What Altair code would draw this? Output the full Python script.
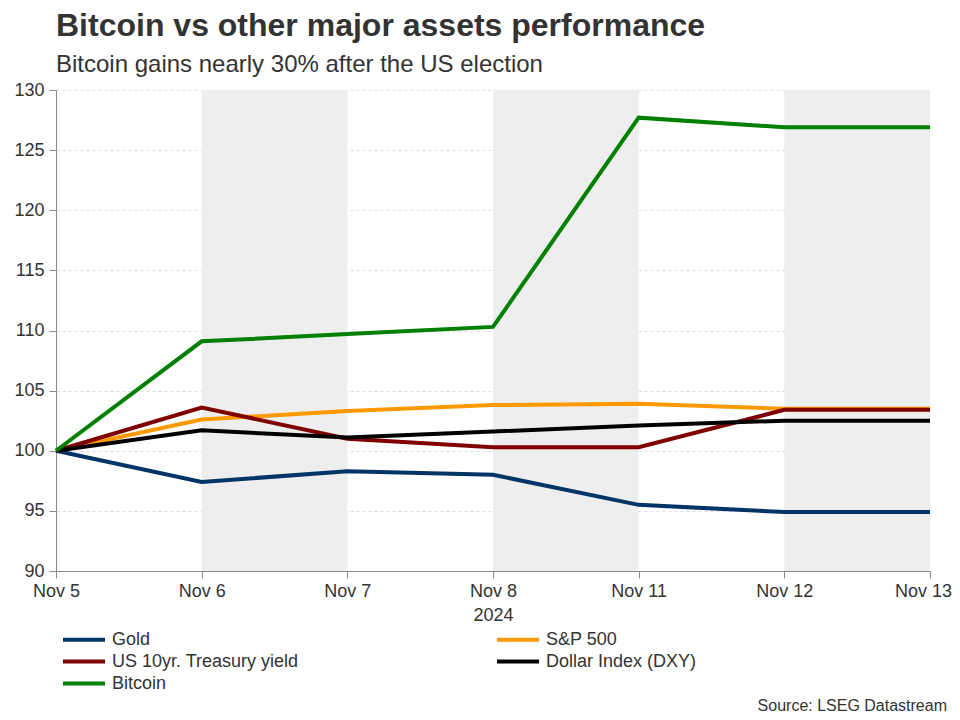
import json
import altair as alt
import pandas as pd

# ---- data ----
dates = ["Nov 5", "Nov 6", "Nov 7", "Nov 8", "Nov 11", "Nov 12", "Nov 13"]
series_names = ["Gold", "S&P 500", "US 10yr. Treasury yield", "Dollar Index (DXY)", "Bitcoin"]
series_colors = ["#003366", "#FF9900", "#800000", "#000000", "#008000"]
gold = [100, 97.4, 98.3, 98.0, 95.5, 94.9, 94.9]
sp500 = [100, 102.6, 103.3, 103.8, 103.9, 103.5, 103.5]
treasury = [100, 103.6, 101.0, 100.3, 100.3, 103.4, 103.4]
dxy = [100, 101.7, 101.1, 101.6, 102.1, 102.5, 102.5]
bitcoin = [100, 109.1, 109.7, 110.3, 127.7, 126.9, 126.9]
shaded_from = ["Nov 6", "Nov 8", "Nov 12"]
shaded_to = ["Nov 7", "Nov 11", "Nov 13"]
y_ticks = [90, 95, 100, 105, 110, 115, 120, 125, 130]

values = [gold, sp500, treasury, dxy, bitcoin]
rows = []
for k, (name, vals) in enumerate(zip(series_names, values)):
    for i, (d, v) in enumerate(zip(dates, vals)):
        rows.append({"series": name, "idx": i, "date": d, "value": v, "order": k})
df = pd.DataFrame(rows)
bands = pd.DataFrame({
    "idx": [dates.index(a) for a in shaded_from],
    "idx2": [dates.index(b) for b in shaded_to],
})
source_df = pd.DataFrame({"txt": ["Source: LSEG Datastream"]})

W, H = 874, 481
FONT = "Liberation Sans"
label_expr = json.dumps(dates) + "[datum.value]"
last_idx = len(dates) - 1

x_enc = alt.X(
    "idx:Q",
    scale=alt.Scale(domain=[0, last_idx], nice=False, zero=False),
    axis=alt.Axis(
        values=list(range(len(dates))), labelExpr=label_expr, title="2024",
        grid=False, domainColor="#888888", tickColor="#888888", tickSize=7,
        labelFontSize=18, labelColor="#333333", labelFont=FONT, labelPadding=4,
        titleFontSize=18, titleFontWeight="normal", titleColor="#333333",
        titleFont=FONT, titlePadding=6, labelFlush=False,
        labelOffset={"condition": {"test": f"datum.value == {last_idx}", "value": -7}, "value": 0},
    ),
)

band_layer = alt.Chart(bands).mark_rect(color="#eeeeee").encode(
    x=alt.X("idx:Q"), x2="idx2:Q"
)

lines = alt.Chart(df).mark_line(strokeWidth=4).encode(
    x=x_enc,
    y=alt.Y(
        "value:Q",
        scale=alt.Scale(domain=[90, 130], nice=False, zero=False),
        axis=alt.Axis(
            values=y_ticks, title=None, grid=True, gridColor="#dddddd",
            gridDash=[3, 3], gridWidth=1, domainColor="#888888",
            tickColor="#888888", tickSize=7, labelFontSize=18,
            labelColor="#333333", labelFont=FONT, labelPadding=5,
        ),
    ),
    color=alt.Color(
        "series:N",
        scale=alt.Scale(domain=series_names, range=series_colors),
        sort=series_names,
        legend=alt.Legend(
            title=None, orient="none", legendX=15.5, legendY=537, columns=2,
            direction="horizontal", columnPadding=190, rowPadding=-1,
            symbolType="M-2,0H2", symbolStrokeWidth=4, symbolSize=441,
            labelFontSize=18, labelFont=FONT, labelColor="#333333",
            labelOffset=15.5, labelLimit=400,
        ),
    ),
    order=alt.Order("order:Q"),
    detail="series:N",
)

source = alt.Chart(source_df).mark_text(
    align="right", baseline="alphabetic", fontSize=16, font=FONT, color="#333333"
).encode(text="txt:N", x=alt.value(W + 17), y=alt.value(621))

chart = alt.layer(band_layer, lines, source).properties(
    width=W, height=H,
    title=alt.TitleParams(
        text="Bitcoin vs other major assets performance",
        subtitle="Bitcoin gains nearly 30% after the US election",
        anchor="start", frame="group", font=FONT, fontSize=32,
        fontWeight="bold", color="#333333", subtitleFont=FONT,
        subtitleFontSize=24, subtitleColor="#333333", subtitlePadding=10,
        offset=3,
    ),
    autosize=alt.AutoSizeParams(type="none"),
    padding={"left": 48, "top": 82, "right": 22, "bottom": 141},
).configure_view(stroke=None)

chart.save("out.html", embed_options={"renderer": "svg", "actions": False})
